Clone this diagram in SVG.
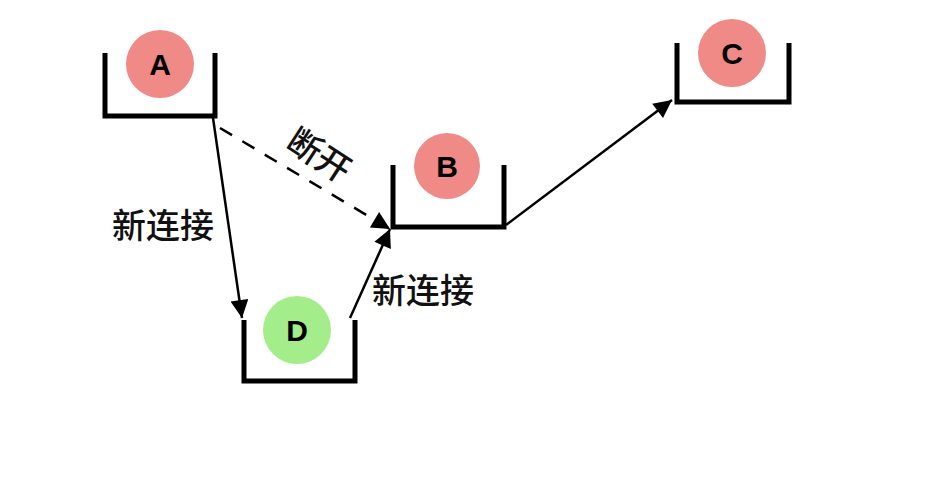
<svg xmlns="http://www.w3.org/2000/svg" width="940" height="484" viewBox="0 0 940 484">
<defs>
<marker id="a" viewBox="0 0 10 10" refX="10" refY="5" markerWidth="20" markerHeight="18" markerUnits="userSpaceOnUse" orient="auto"><path d="M0,0 L10,5 L0,10 z" fill="#000"/></marker>
</defs>
<style>
.bk{fill:none;stroke:#000;stroke-width:5;stroke-linejoin:miter}
.red{fill:#f08a86}.grn{fill:#a3ee8a}
.lt{font-family:"Liberation Sans",Arial,sans-serif;font-weight:bold;font-size:30px;text-anchor:middle;fill:#000}
.cn{font-family:"Noto Sans CJK SC",sans-serif;font-size:34px;font-weight:500;fill:#111}
.ln{stroke:#000;stroke-width:2.5;fill:none}
</style>
<rect width="940" height="484" fill="#fff"/>
<g id="nodeA"><path class="bk" d="M105,53 V116 H215 V53"/><circle class="red" cx="160" cy="64" r="34"/><text class="lt" x="160" y="75">A</text></g>
<g id="nodeB"><path class="bk" d="M393,165 V227 H504 V165"/><circle class="red" cx="447" cy="166" r="33"/><text class="lt" x="447" y="177">B</text></g>
<g id="nodeC"><path class="bk" d="M677,43 V102 H789 V43"/><circle class="red" cx="732" cy="53" r="34"/><text class="lt" x="732" y="64">C</text></g>
<g id="nodeD"><path class="bk" d="M244,320 V381 H355 V320"/><circle class="grn" cx="297" cy="330" r="34"/><text class="lt" x="297" y="341">D</text></g>
<g id="connectors">
<line class="ln" x1="213" y1="118" x2="242" y2="318" marker-end="url(#a)"/>
<line class="ln" x1="220" y1="128" x2="390" y2="229" stroke-dasharray="14,12" marker-end="url(#a)"/>
<line class="ln" x1="350" y1="318" x2="390" y2="229" marker-end="url(#a)"/>
<line class="ln" x1="506" y1="225" x2="672" y2="100" marker-end="url(#a)"/>
</g>
<text class="cn" x="112" y="238">新连接</text>
<text class="cn" x="372" y="303">新连接</text>
<text class="cn" transform="translate(284,147) rotate(33)">断开</text>
</svg>
